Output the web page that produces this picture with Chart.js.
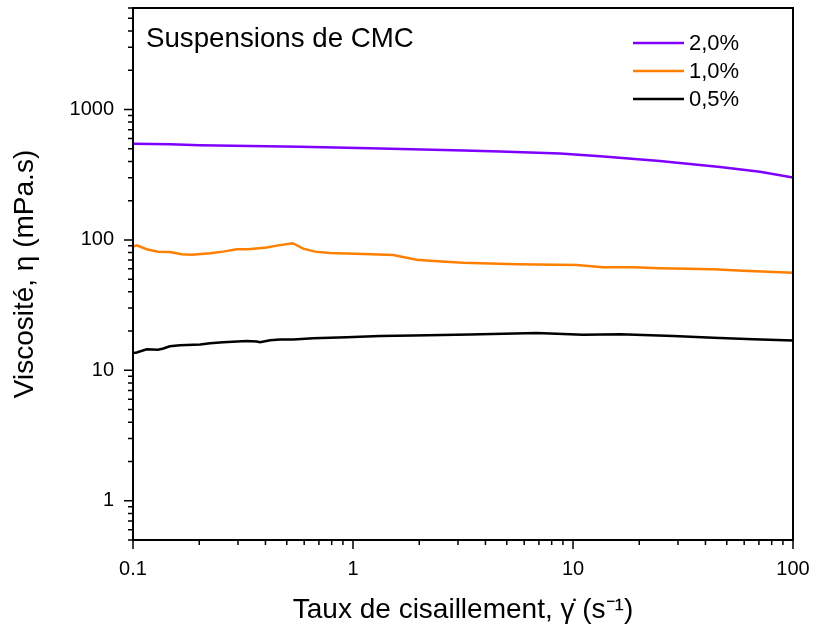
<!DOCTYPE html>
<html>
<head>
<meta charset="utf-8">
<script src="https://cdn.jsdelivr.net/npm/chart.js@4.4.1/dist/chart.umd.min.js"></script>
<style>
  html, body { margin: 0; padding: 0; background: #fff; }
  #wrap { width: 814px; height: 627px; }
</style>
</head>
<body>
<div id="wrap"><canvas id="myChart" width="814" height="627"></canvas></div>
<script>
// Données (taux de cisaillement en s-1, viscosité en mPa.s)
const seriesLabels = ['2,0%', '1,0%', '0,5%'];
const seriesColors = ['#7f00ff', '#ff7f00', '#000000'];

const rate20 = [0.1, 0.147, 0.202, 0.574, 1.19, 3.2, 4.66, 8.74, 13.3, 24.8, 46.6, 70.8, 100];
const visc20 = [547, 541, 531, 519, 504, 484, 476, 459, 438, 403, 362, 333, 301];

const rate10 = [0.1, 0.104, 0.1154, 0.130, 0.147, 0.1665, 0.185, 0.224, 0.257, 0.296, 0.334, 0.405, 0.450, 0.532,
  0.594, 0.672, 0.786, 1.114, 1.525, 1.754, 1.948, 2.24, 2.76, 3.17, 5.55, 10.4, 13.7, 18.8, 24.9, 43.4, 59.4, 100];
const visc10 = [88.8, 91.0, 84.8, 81.3, 80.9, 77.6, 77.1, 79.0, 81.3, 84.8, 84.8, 87.3, 90.4, 94.3,
  85.7, 81.3, 79.4, 78.0, 76.6, 73.1, 70.5, 69.3, 67.8, 66.9, 65.0, 64.2, 61.7, 61.7, 60.6, 59.5, 58.1, 56.0];

const rate05 = [0.1, 0.104, 0.1154, 0.130, 0.1374, 0.147, 0.1636, 0.202, 0.224, 0.257, 0.329, 0.365, 0.378, 0.42,
  0.466, 0.534, 0.66, 0.936, 1.327, 1.88, 3.40, 6.84, 11.1, 16.4, 28.6, 43.4, 66.0, 100];
const visc05 = [13.59, 13.69, 14.5, 14.4, 14.7, 15.3, 15.6, 15.8, 16.1, 16.4, 16.8, 16.6, 16.4, 17.0,
  17.2, 17.2, 17.6, 17.9, 18.3, 18.5, 18.8, 19.3, 18.7, 18.9, 18.3, 17.8, 17.3, 16.9];

const xTicks = [0.1, 1, 10, 100];
const yTicks = [1, 10, 100, 1000];
const xRange = [0.1, 100];
const yRange = [0.5, 6000];

const FONT = '"Liberation Sans", Arial, sans-serif';
Chart.defaults.font.family = FONT;
Chart.defaults.color = '#000';

function toPoints(xs, ys) {
  return xs.map((x, i) => ({ x: x, y: ys[i] }));
}

// Cadre, graduations (majeures + mineures), titre interne et légende
const decorPlugin = {
  id: 'decor',
  afterDatasetsDraw(chart) {
    const { ctx, chartArea: a, scales } = chart;
    ctx.save();
    ctx.strokeStyle = '#000';
    ctx.lineWidth = 2;
    ctx.strokeRect(a.left, a.top, a.right - a.left, a.bottom - a.top);

    ctx.lineWidth = 1.5;
    ctx.beginPath();
    for (let e = -1; e <= 3; e++) {
      for (let m = 1; m <= 9; m++) {
        const v = m * Math.pow(10, e);
        const len = m === 1 ? 9 : 5;
        if (v >= scales.x.min - 1e-9 && v <= scales.x.max + 1e-9) {
          const px = scales.x.getPixelForValue(v);
          ctx.moveTo(px, a.bottom);
          ctx.lineTo(px, a.bottom + len);
        }
      }
    }
    for (let e = -1; e <= 4; e++) {
      for (let m = 1; m <= 9; m++) {
        const v = m * Math.pow(10, e);
        const len = m === 1 ? 9 : 5;
        if (v >= scales.y.min && v <= scales.y.max) {
          const py = scales.y.getPixelForValue(v);
          ctx.moveTo(a.left, py);
          ctx.lineTo(a.left - len, py);
        }
      }
    }
    ctx.stroke();

    // titre interne
    ctx.fillStyle = '#000';
    ctx.font = '27.7px ' + FONT;
    ctx.textAlign = 'left';
    ctx.textBaseline = 'alphabetic';
    ctx.fillText('Suspensions de CMC', a.left + 13, a.top + 39);

    // légende
    ctx.font = '22px ' + FONT;
    ctx.textBaseline = 'middle';
    chart.data.datasets.forEach((ds, i) => {
      const yy = a.top + 35 + i * 28;
      ctx.strokeStyle = ds.borderColor;
      ctx.lineWidth = 2.5;
      ctx.beginPath();
      ctx.moveTo(a.left + 500, yy);
      ctx.lineTo(a.left + 551, yy);
      ctx.stroke();
      ctx.fillText(ds.label, a.left + 556, yy + 1);
    });
    ctx.restore();
  }
};

const ctx = document.getElementById('myChart').getContext('2d');
new Chart(ctx, {
  type: 'line',
  data: {
    datasets: [
      { label: seriesLabels[0], data: toPoints(rate20, visc20), borderColor: seriesColors[0] },
      { label: seriesLabels[1], data: toPoints(rate10, visc10), borderColor: seriesColors[1] },
      { label: seriesLabels[2], data: toPoints(rate05, visc05), borderColor: seriesColors[2] }
    ]
  },
  options: {
    responsive: false,
    animation: false,
    layout: { padding: { left: 0, top: 8, right: 21, bottom: 0 } },
    elements: {
      line: { borderWidth: 2.5, tension: 0, fill: false },
      point: { radius: 0 }
    },
    plugins: {
      legend: { display: false },
      tooltip: { enabled: false }
    },
    scales: {
      x: {
        type: 'logarithmic',
        min: xRange[0],
        max: xRange[1],
        afterBuildTicks: s => { s.ticks = xTicks.map(v => ({ value: v })); },
        afterFit: s => { s.height = 87; s.paddingLeft = 0; s.paddingRight = 0; },
        grid: { display: false, drawTicks: false },
        border: { display: false },
        ticks: { font: { size: 20 }, padding: 17, maxRotation: 0, autoSkip: false, callback: v => String(v) },
        title: { display: true, text: 'Taux de cisaillement, γ̇ (s⁻¹)', font: { size: 28 }, padding: 0 }
      },
      y: {
        type: 'logarithmic',
        min: yRange[0],
        max: yRange[1],
        afterBuildTicks: s => { s.ticks = yTicks.map(v => ({ value: v })); },
        afterFit: s => { s.width = 133; s.paddingTop = 0; s.paddingBottom = 0; },
        grid: { display: false, drawTicks: false },
        border: { display: false },
        ticks: { font: { size: 20 }, padding: 19, autoSkip: false, callback: v => String(v) },
        title: { display: true, text: 'Viscosité, η (mPa.s)', font: { size: 28 }, padding: { top: 8, bottom: 0 } }
      }
    }
  },
  plugins: [decorPlugin]
});
</script>
</body>
</html>
